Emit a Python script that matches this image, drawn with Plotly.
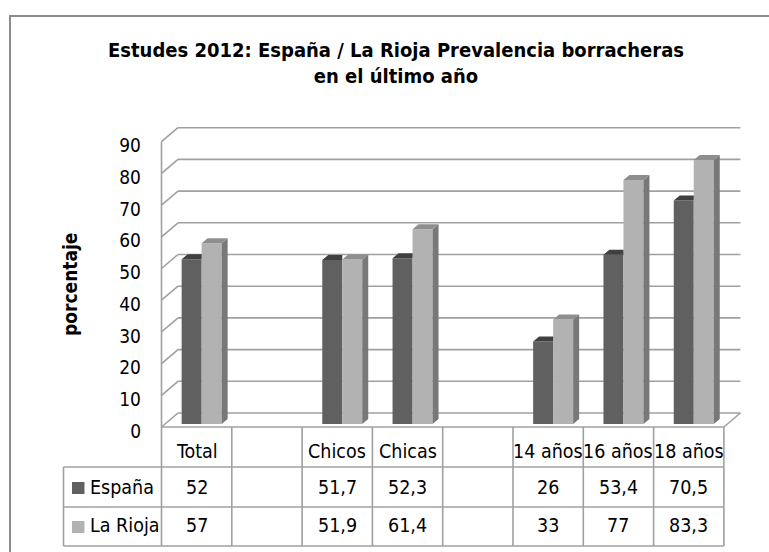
import plotly.graph_objects as go

# ---------------- data ----------------
categories = ["Total", "", "Chicos", "Chicas", "", "14 años", "16 años", "18 años"]
espana = [52, None, 51.7, 52.3, None, 26, 53.4, 70.5]
rioja = [57, None, 51.9, 61.4, None, 33, 77, 83.3]
series_names = ["España", "La Rioja"]
y_ticks = [0, 10, 20, 30, 40, 50, 60, 70, 80, 90]
title_text = "Estudes 2012: España / La Rioja Prevalencia borracheras<br>en el último año"
y_title = "porcentaje"

# ---------------- styling / geometry ----------------
W, H = 769, 552
CAT_PX = 70.3      # width of one category in pixels
UNIT_PX = 3.17     # pixels per percentage point
X0_PX = 166.5      # left edge of first category (bar plane)
Y0_PX = 424.0      # zero line (bar plane)

FONT = "Liberation Sans Narrow, DejaVu Sans Condensed, Arial Narrow, sans-serif"
C_ES_FRONT, C_ES_TOP = "#606060", "#404040"
C_RI_FRONT, C_RI_TOP, C_RI_SIDE = "#b2b2b2", "#8e8e8e", "#787878"
GRID = "#a0a0a0"


def xd(px):
    return (px - X0_PX) / CAT_PX - 0.5


def yd(py):
    return (Y0_PX - py) / UNIT_PX


def dxu(px):
    return px / CAT_PX


def dyu(px):
    return px / UNIT_PX


FX, FY = -dxu(5), -dyu(3)        # bar plane -> front plane
BX, BY = dxu(11.5), dyu(11)      # bar plane -> back wall
BW = dxu(20)                      # bar width
DDX, DDY = dxu(6), dyu(5)         # bar depth

n = len(categories)
idx = list(range(n))
x_left_front = -0.5 + FX
x_right_front = n - 0.5 + FX
x_left_back = -0.5 + BX
x_right_back = n - 0.5 + BX

fig = go.Figure()

# front faces
fig.add_trace(go.Bar(x=idx, y=espana, width=BW, offset=-BW, marker=dict(color=C_ES_FRONT, line=dict(width=0)),
                     name=series_names[0], showlegend=False, hoverinfo="skip"))
fig.add_trace(go.Bar(x=idx, y=rioja, width=BW, offset=0, marker=dict(color=C_RI_FRONT, line=dict(width=0)),
                     name=series_names[1], showlegend=False, hoverinfo="skip"))


def poly_trace(polys, color):
    xs, ys = [], []
    for p in polys:
        for (a, b) in p:
            xs.append(a)
            ys.append(b)
        xs.append(p[0][0])
        ys.append(p[0][1])
        xs.append(None)
        ys.append(None)
    return go.Scatter(x=xs, y=ys, mode="lines", fill="toself", fillcolor=color,
                      line=dict(width=0, color=color), showlegend=False, hoverinfo="skip")


es_top, ri_top, ri_side = [], [], []
for i in idx:
    v = espana[i]
    if v is not None:
        L, R = i - BW, i
        es_top.append([(L, v), (R, v), (R, v + DDY), (L + DDX, v + DDY)])
    v = rioja[i]
    if v is not None:
        L, R = i, i + BW
        ri_top.append([(L, v), (R, v), (R + DDX, v + DDY), (L + DDX, v + DDY)])
        ri_side.append([(R, 0), (R + DDX, DDY), (R + DDX, v + DDY), (R, v)])

fig.add_trace(poly_trace(es_top, C_ES_TOP))
fig.add_trace(poly_trace(ri_side, C_RI_SIDE))
fig.add_trace(poly_trace(ri_top, C_RI_TOP))

shapes = []
line = dict(color=GRID, width=1.6)
# walls
for t in y_ticks:
    shapes.append(dict(type="line", xref="x", yref="y", layer="below", line=line,
                       x0=x_left_front, y0=t + FY, x1=x_left_back, y1=t + BY))
    shapes.append(dict(type="line", xref="x", yref="y", layer="below", line=line,
                       x0=x_left_back, y0=t + BY, x1=x_right_back, y1=t + BY))
# floor edges
shapes.append(dict(type="line", xref="x", yref="y", layer="below", line=line,
                   x0=x_left_front, y0=FY, x1=x_right_front, y1=FY))
shapes.append(dict(type="line", xref="x", yref="y", layer="below", line=line,
                   x0=x_right_front, y0=FY, x1=x_right_back, y1=BY))

# data table
row_top, row_h1, row_h2, row_bot = yd(428), yd(467), yd(507), yd(546)
x_rowhead = xd(63.5)
shapes.append(dict(type="line", xref="x", yref="y", line=line,
                   x0=x_left_front, y0=max(y_ticks) + FY, x1=x_left_front, y1=row_bot))
for k in range(1, n + 1):
    xk = k - 0.5 + FX
    shapes.append(dict(type="line", xref="x", yref="y", line=line, x0=xk, y0=FY, x1=xk, y1=row_bot))
for yy in (row_h1, row_h2, row_bot):
    shapes.append(dict(type="line", xref="x", yref="y", line=line, x0=x_rowhead, y0=yy, x1=x_right_front, y1=yy))
shapes.append(dict(type="line", xref="x", yref="y", line=line, x0=x_rowhead, y0=row_h1, x1=x_rowhead, y1=row_bot))

# legend keys
for yc, col in ((yd(488), C_ES_FRONT), (yd(527), C_RI_FRONT)):
    shapes.append(dict(type="rect", xref="x", yref="y", line=dict(width=0), fillcolor=col,
                       x0=xd(72), x1=xd(84.5), y0=yc - dyu(6), y1=yc + dyu(6)))

# chart border
shapes.append(dict(type="rect", xref="paper", yref="paper", line=dict(color="#8c8c8c", width=2),
                   x0=10 / W, y0=-0.05, x1=1.05, y1=1 - 16 / H))

annotations = []
tfont = dict(family=FONT, size=19.5, color="#000000")
for i, c in enumerate(categories):
    if c:
        annotations.append(dict(x=i + FX, y=yd(451.5), xref="x", yref="y", text=c, showarrow=False,
                                font=tfont, xanchor="center", yanchor="middle"))
for vals, yc in ((espana, yd(487)), (rioja, yd(525.5))):
    for i, v in enumerate(vals):
        if v is not None:
            txt = f"{v:g}".replace(".", ",")
            annotations.append(dict(x=i + FX, y=yc, xref="x", yref="y", text=txt, showarrow=False,
                                    font=tfont, xanchor="center", yanchor="middle"))
for name, yc in zip(series_names, (yd(487), yd(525.5))):
    annotations.append(dict(x=xd(88), y=yc, xref="x", yref="y", text=name, showarrow=False,
                            font=tfont, xanchor="left", yanchor="middle"))
annotations.append(dict(x=70 / W, y=1 - 285 / H, xref="paper", yref="paper", text="<b>" + y_title + "</b>",
                        textangle=-90, showarrow=False, font=dict(family=FONT, size=19, color="#000000"),
                        xanchor="center", yanchor="middle"))

fig.update_layout(
    width=W, height=H,
    margin=dict(l=0, r=0, t=0, b=0),
    paper_bgcolor="white", plot_bgcolor="white",
    barmode="overlay",
    title=dict(text="<b>" + title_text + "</b>", x=396 / W, xanchor="center", y=1 - 57 / H, yanchor="middle",
               font=dict(family=FONT, size=20, color="#000000")),
    xaxis=dict(range=[xd(0), xd(W)], visible=False, fixedrange=True),
    yaxis=dict(range=[yd(H), yd(0)], anchor="free", position=141 / W, showgrid=False, zeroline=False,
               showline=False, tickvals=y_ticks, ticks="", ticklabelshift=7,
               tickfont=dict(family=FONT, size=19, color="#000000"), fixedrange=True),
    shapes=shapes,
    annotations=annotations,
    showlegend=False,
)

fig.write_html("out.html", config={"displayModeBar": False},
               post_script="document.body.style.margin='0';document.body.style.overflow='hidden';")
